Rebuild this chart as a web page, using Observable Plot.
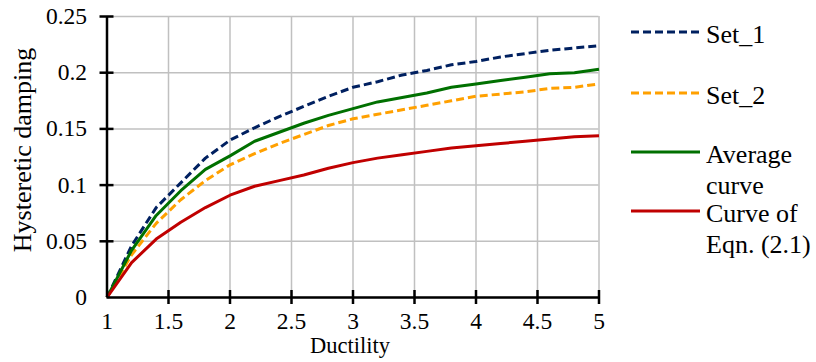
<!DOCTYPE html>
<html>
<head>
<meta charset="utf-8">
<script src="https://cdn.jsdelivr.net/npm/d3@7"></script>
<script src="https://cdn.jsdelivr.net/npm/@observablehq/plot@0.6"></script>
<style>
  body { margin: 0; background: #fff; }
  #wrap { position: relative; width: 816px; height: 362px; font-family: "Liberation Serif", serif; }
  #legend { position: absolute; left: 631px; top: 0; width: 185px; }
  .item { position: absolute; left: 0; display: flex; align-items: flex-start; }
  .item svg { flex: none; margin-right: 6px; }
  .item .lbl { font-family: "Liberation Serif", serif; font-size: 26px; line-height: 31px; color: #000; white-space: nowrap; }
</style>
</head>
<body>
<div id="wrap"><div id="legend"></div></div>
<script>
const ductility = [1, 1.2, 1.4, 1.6, 1.8, 2.0, 2.2, 2.4, 2.6, 2.8, 3.0, 3.2, 3.4, 3.6, 3.8, 4.0, 4.2, 4.4, 4.6, 4.8, 5.0];
const set1    = [0, 0.046, 0.080, 0.102, 0.124, 0.140, 0.151, 0.161, 0.170, 0.179, 0.187, 0.192, 0.198, 0.202, 0.207, 0.210, 0.214, 0.217, 0.220, 0.222, 0.224];
const set2    = [0, 0.038, 0.066, 0.087, 0.104, 0.118, 0.128, 0.137, 0.145, 0.153, 0.159, 0.163, 0.167, 0.171, 0.175, 0.179, 0.181, 0.183, 0.186, 0.187, 0.190];
const average = [0, 0.042, 0.073, 0.095, 0.114, 0.126, 0.139, 0.147, 0.155, 0.162, 0.168, 0.174, 0.178, 0.182, 0.187, 0.190, 0.193, 0.196, 0.199, 0.200, 0.203];
const eqn21   = [0, 0.031, 0.052, 0.067, 0.080, 0.091, 0.099, 0.104, 0.109, 0.115, 0.120, 0.124, 0.127, 0.130, 0.133, 0.135, 0.137, 0.139, 0.141, 0.143, 0.144];

const seriesNames = ["Set_1", "Set_2", "Average curve", "Curve of Eqn. (2.1)"];
const legendLines = [["Set_1"], ["Set_2"], ["Average", "curve"], ["Curve of", "Eqn. (2.1)"]];
const seriesValues = [set1, set2, average, eqn21];
const seriesColors = ["#002060", "#FFA000", "#007000", "#C00000"];
const seriesDash = ["8,4", "8,4", null, null];

const xTicks = [1, 1.5, 2, 2.5, 3, 3.5, 4, 4.5, 5];
const xTickLabels = ["1", "1.5", "2", "2.5", "3", "3.5", "4", "4.5", "5"];
const yTicks = [0, 0.05, 0.1, 0.15, 0.2, 0.25];
const yTickLabels = ["0", "0.05", "0.1", "0.15", "0.2", "0.25"];

const xTitle = "Ductility";
const yTitle = "Hysteretic damping";

const rows = [];
seriesNames.forEach((name, s) => {
  ductility.forEach((x, i) => rows.push({series: name, x, y: seriesValues[s][i]}));
});

const lineMarks = seriesNames.map((name, s) =>
  Plot.line(rows.filter(r => r.series === name), {
    x: "x", y: "y",
    stroke: seriesColors[s],
    strokeWidth: 3,
    strokeDasharray: seriesDash[s] || undefined,
    strokeLinejoin: "round",
    strokeLinecap: "butt"
  })
);

const serif = "'Liberation Serif', serif";

const chart = Plot.plot({
  width: 816,
  height: 362,
  marginLeft: 106.5,
  marginRight: 217.5,
  marginTop: 16,
  marginBottom: 65,
  style: {fontFamily: serif, fontSize: "23.5px", color: "#000", background: "transparent"},
  x: {domain: [1, 5], label: null},
  y: {domain: [0, 0.25], label: null},
  marks: [
    Plot.gridX(xTicks, {stroke: "#c0c0c0", strokeOpacity: 1, strokeWidth: 1.5}),
    Plot.gridY(yTicks, {stroke: "#c0c0c0", strokeOpacity: 1, strokeWidth: 1.5}),
    ...lineMarks,
    Plot.ruleY([0], {stroke: "#000", strokeWidth: 2.5}),
    Plot.ruleX([1], {stroke: "#000", strokeWidth: 2.5}),
    Plot.ruleX(xTicks.slice(1), {x: d => d, y1: () => 0, y2: () => 0, insetTop: 7, insetBottom: 7, stroke: "#000", strokeWidth: 2.5}),
    Plot.ruleY(yTicks.slice(1), {y: d => d, x1: () => 1, x2: () => 1, insetLeft: 7, insetRight: 7, stroke: "#000", strokeWidth: 2.5}),
    Plot.axisX(xTicks, {tickFormat: (d, i) => xTickLabels[i], tickSize: 0, tickPadding: 15, label: null, fill: "#000", fontFamily: serif}),
    Plot.axisY(yTicks, {tickFormat: (d, i) => yTickLabels[i], tickSize: 0, tickPadding: 20, label: null, fill: "#000", fontFamily: serif}),
    Plot.text([xTitle], {text: d => d, frameAnchor: "bottom", textAnchor: "middle", dx: -3, dy: 55, fontSize: 22.5, fontFamily: serif, fill: "#000"}),
    Plot.text([yTitle], {text: d => d, frameAnchor: "left", textAnchor: "middle", rotate: -90, dx: -84, dy: -7, fontSize: 26, fontFamily: serif, fill: "#000"})
  ]
});
document.getElementById("wrap").prepend(chart);

// legend
const legendTops = [19, 80, 139, 198];
const legend = document.getElementById("legend");
seriesNames.forEach((name, s) => {
  const item = document.createElement("div");
  item.className = "item";
  item.style.top = legendTops[s] + "px";
  const ns = "http://www.w3.org/2000/svg";
  const sw = document.createElementNS(ns, "svg");
  sw.setAttribute("width", 69);
  sw.setAttribute("height", 26);
  const ln = document.createElementNS(ns, "line");
  ln.setAttribute("x1", 0); ln.setAttribute("x2", 69);
  ln.setAttribute("y1", 13); ln.setAttribute("y2", 13);
  ln.setAttribute("stroke", seriesColors[s]);
  ln.setAttribute("stroke-width", 3);
  if (seriesDash[s]) ln.setAttribute("stroke-dasharray", seriesDash[s]);
  sw.appendChild(ln);
  const lbl = document.createElement("div");
  lbl.className = "lbl";
  lbl.innerHTML = legendLines[s].join("<br>");
  item.appendChild(sw);
  item.appendChild(lbl);
  legend.appendChild(item);
});
</script>
</body>
</html>
